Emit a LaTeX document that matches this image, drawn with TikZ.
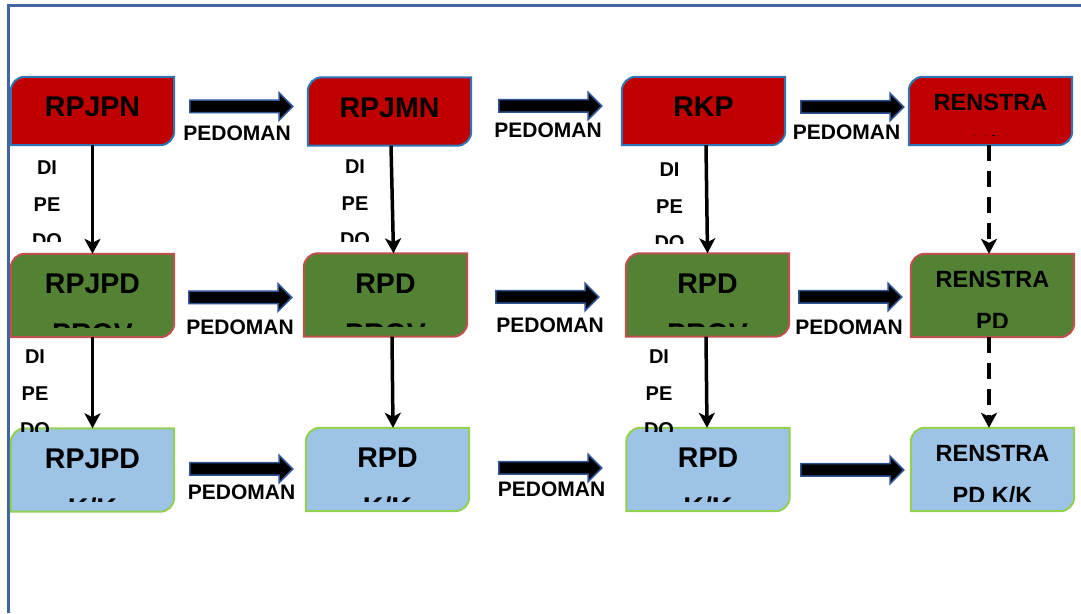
\documentclass[tikz,border=0pt]{standalone}
\usepackage{fontspec}
\setmainfont{Liberation Sans}
\usetikzlibrary{shapes.arrows, arrows.meta, positioning}
\definecolor{boxred}{RGB}{192, 0, 0}
\definecolor{redline}{RGB}{46, 117, 182}
\definecolor{boxgreen}{RGB}{84, 130, 53}
\definecolor{greenline}{RGB}{192, 80, 77}
\definecolor{boxsky}{RGB}{157, 195, 230}
\definecolor{skyline}{RGB}{146, 208, 80}
\definecolor{arrowblue}{RGB}{47, 85, 151}
\definecolor{frameblue}{RGB}{65, 100, 165}

\tikzset{
  plan/.style={minimum width=163pt, minimum height=#1, inner sep=0pt},
  bigtext/.style={font=\fontsize{28.5}{50}\selectfont\bfseries, align=center, inner sep=0pt, anchor=north, yshift=-20pt},
  midtext/.style={font=\fontsize{23.5}{42}\selectfont\bfseries, align=center, inner sep=0pt, anchor=north, yshift=-17pt},
  dilabel/.style={font=\fontsize{20}{36.5}\selectfont\bfseries, align=center, inner sep=0pt, anchor=north},
  pedoman/.style={single arrow, draw=arrowblue, fill=black, line width=1.5pt, minimum height=103pt, minimum width=0pt, single arrow head extend=7.5pt, inner xsep=0pt, inner ysep=5.5pt, anchor=tail},
  pedotext/.style={font=\fontsize{21}{25}\selectfont\bfseries, inner sep=0pt},
  down/.style={line width=3.5pt, -{Stealth[length=15pt, width=16pt, inset=4pt]}}
}

\begin{document}
\begin{tikzpicture}[x=1pt, y=1pt]
\useasboundingbox (0,0) rectangle (1081,613);
\draw[frameblue, line width=2.5pt] (8.5,0) -- (8.5,607.5) -- (1081,607.5);

% boxes
\node[plan=68pt] (rpjpn) at (92.5,502) {};
\node[plan=68pt] (rpjmn) at (389.5,501.5) {};
\node[plan=68pt] (rkp) at (703.5,502) {};
\node[plan=68pt] (renstra) at (990.5,502) {};
\node[plan=83pt] (rpjpdprov) at (92.5,317.5) {};
\node[plan=83pt] (rpdprov) at (385.5,318) {};
\node[plan=83pt] (rpdprovb) at (707.5,318) {};
\node[plan=83pt] (renstrapd) at (992.5,317.5) {};
\node[plan=83pt] (rpjpdkk) at (92.5,143) {};
\node[plan=83pt] (rpdkk) at (387.5,143.5) {};
\node[plan=83pt] (rpdkkb) at (708,143.5) {};
\node[plan=83pt] (renstrapdkk) at (992.5,143.5) {};

\foreach \n/\fc/\lc/\fs/\t in {
    rpjpn/boxred/redline/bigtext/{RPJPN},
    rpjmn/boxred/redline/bigtext/{RPJMN},
    rkp/boxred/redline/bigtext/{RKP},
    renstra/boxred/redline/midtext/{RENSTRA\\K/L},
    rpjpdprov/boxgreen/greenline/bigtext/{RPJPD\\PROV},
    rpdprov/boxgreen/greenline/bigtext/{RPD\\PROV},
    rpdprovb/boxgreen/greenline/bigtext/{RPD\\PROV},
    renstrapd/boxgreen/greenline/midtext/{RENSTRA\\PD},
    rpjpdkk/boxsky/skyline/bigtext/{RPJPD\\K/K},
    rpdkk/boxsky/skyline/bigtext/{RPD\\K/K},
    rpdkkb/boxsky/skyline/bigtext/{RPD\\K/K},
    renstrapdkk/boxsky/skyline/midtext/{RENSTRA\\PD K/K}}{
  \draw[line width=2pt, fill=\fc, draw=\lc] (\n.south west) -- ([yshift=-14pt]\n.north west)
    .. controls ([yshift=-6.3pt]\n.north west) and ([xshift=6.3pt]\n.north west) .. ([xshift=14pt]\n.north west)
    -- (\n.north east) -- ([yshift=14pt]\n.south east)
    .. controls ([yshift=6.3pt]\n.south east) and ([xshift=-6.3pt]\n.south east) .. ([xshift=-14pt]\n.south east)
    -- cycle;
  \begin{scope}
    \clip ([yshift=10pt]\n.south west) rectangle (\n.north east);
    \node[\fs] (\n-txt) at (\n.north) {\t};
  \end{scope}
}

% block arrows
\node[pedoman] (pa) at (189,506.5) {};
\node[pedoman] (pb) at (498,507) {};
\node[pedoman] (pc) at (800,506) {};
\node[pedoman] (pd) at (188,315.5) {};
\node[pedoman] (pe) at (495,316) {};
\node[pedoman] (pf) at (798,316) {};
\node[pedoman] (pg) at (189,144) {};
\node[pedoman] (ph) at (498,145) {};
\node[pedoman] (pi) at (800,143) {};

\node[pedotext] (ta) at (237,479.5) {PEDOMAN};
\node[pedotext] (tb) at (548,482.5) {PEDOMAN};
\node[pedotext] (tc) at (846.5,480.5) {PEDOMAN};
\node[pedotext] (td) at (240,286) {PEDOMAN};
\node[pedotext] (te) at (550,288) {PEDOMAN};
\node[pedotext] (tf) at (849,286) {PEDOMAN};
\node[pedotext] (tg) at (241.5,120.5) {PEDOMAN};
\node[pedotext] (th) at (551.5,123.5) {PEDOMAN};

% vertical links
\draw[down] (rpjpn.south) -- (rpjpdprov.north);
\draw[down] (rpjpdprov.south) -- (rpjpdkk.north);
\draw[down] ([xshift=1.5pt]rpjmn.south) -- ([xshift=8pt]rpdprov.north);
\draw[down] ([xshift=6.5pt]rpdprov.south) -- ([xshift=5.5pt]rpdkk.north);
\draw[down] ([xshift=2.5pt]rkp.south) -- (rpdprovb.north);
\draw[down] ([xshift=-1.5pt]rpdprovb.south) -- ([xshift=-1pt]rpdkkb.north);
\draw[down, dash pattern=on 16pt off 10pt] ([xshift=-1.5pt]renstra.south) -- ([xshift=-3.5pt]renstrapd.north);
\draw[down, dash pattern=on 16pt off 10pt] ([xshift=-3.5pt]renstrapd.south) -- ([xshift=-3.5pt]renstrapdkk.north);

% side labels
\foreach \n/\x/\y/\c in {dia/47/452/371, dib/355/453/371, dic/669.5/450/369, did/35/263/181, die/659/263/181}{
  \begin{scope}
    \clip (\x-30,\y+5) rectangle (\x+30,\c);
    \node[dilabel] (\n) at (\x,\y) {DI\\PE\\DO};
  \end{scope}
}
\end{tikzpicture}
\end{document}
